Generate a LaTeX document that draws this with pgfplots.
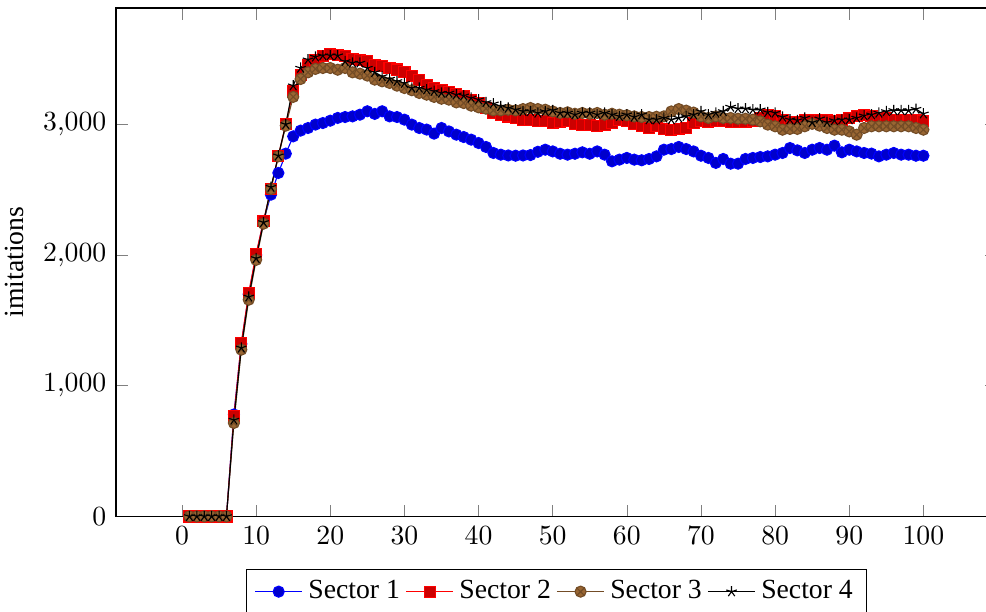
\documentclass[border=0pt]{standalone}
\usepackage{fontspec}
\setmainfont{Liberation Serif}
\usepackage{pgfplots}
\usepackage{pgfplotstable}
\pgfplotsset{compat=1.18}
\pgfplotstableread{
x s1 s2 s3 s4
1 0 0 0 0
2 0 0 0 0
3 0 0 0 0
4 0 0 0 0
5 0 0 0 0
6 0 0 0 0
7 780 770 715 738
8 1320 1327 1276 1290
9 1700 1710 1658 1680
10 2000 2009 1963 1975
11 2260 2263 2240 2250
12 2462 2505 2505 2520
13 2628 2760 2755 2760
14 2776 3005 2990 3000
15 2908 3252 3210 3296
16 2952 3380 3347 3431
17 2972 3457 3398 3495
18 2998 3495 3424 3516
19 3010 3520 3431 3526
20 3028 3541 3431 3526
21 3049 3533 3418 3526
22 3056 3520 3431 3482
23 3061 3500 3398 3470
24 3074 3495 3388 3470
25 3100 3482 3373 3431
26 3080 3457 3342 3398
27 3100 3444 3329 3367
28 3061 3431 3317 3347
29 3056 3419 3296 3329
30 3036 3400 3278 3315
31 2998 3367 3261 3278
32 2972 3342 3240 3278
33 2960 3304 3227 3265
34 2929 3275 3210 3253
35 2972 3260 3196 3240
36 2946 3245 3189 3240
37 2921 3230 3168 3227
38 2903 3214 3163 3219
39 2883 3189 3143 3202
40 2857 3160 3130 3189
41 2827 3125 3120 3168
42 2781 3090 3107 3158
43 2768 3074 3107 3138
44 2762 3060 3112 3125
45 2760 3049 3107 3112
46 2762 3036 3117 3099
47 2765 3031 3125 3099
48 2790 3023 3117 3087
49 2806 3023 3112 3099
50 2793 3012 3099 3107
51 2775 3015 3087 3087
52 2768 3023 3092 3087
53 2775 3005 3081 3074
54 2786 2998 3087 3087
55 2775 2995 3081 3087
56 2793 2990 3087 3074
57 2768 2998 3074 3087
58 2717 3010 3081 3074
59 2730 3031 3074 3061
60 2743 3023 3070 3074
61 2730 3005 3061 3056
62 2725 2990 3056 3074
63 2735 2975 3056 3036
64 2755 2985 3058 3036
65 2806 2965 3061 3049
66 2811 2959 3099 3036
67 2827 2962 3117 3049
68 2811 2972 3105 3061
69 2793 3010 3090 3074
70 2760 3023 3061 3099
71 2743 3015 3049 3074
72 2705 3023 3061 3087
73 2735 3023 3049 3099
74 2699 3015 3049 3133
75 2699 3015 3043 3120
76 2735 3015 3043 3120
77 2743 3023 3036 3112
78 2750 3049 3023 3112
79 2755 3074 2998 3092
80 2768 3061 2985 3087
81 2781 3036 2959 3056
82 2819 3015 2965 3036
83 2801 3015 2965 3030
84 2781 3036 2985 3049
85 2806 3036 3004 3015
86 2819 3030 2990 3043
87 2806 3030 2972 3015
88 2837 3023 2959 3030
89 2786 3036 2959 3036
90 2806 3050 2946 3036
91 2793 3061 2921 3049
92 2781 3074 2972 3066
93 2776 3061 2985 3074
94 2755 3049 2985 3087
95 2768 3049 2985 3099
96 2781 3036 2985 3107
97 2768 3036 2985 3107
98 2768 3036 2985 3107
99 2760 3036 2972 3117
100 2760 3023 2959 3081
}\datatable
\begin{document}
\begin{tikzpicture}
\begin{axis}[name=ax,
  scale only axis, width=318.1pt, height=183.6pt,
  xmin=-8.9, xmax=109.9, ymin=0, ymax=3890,
  xtick={0,10,...,100}, ytick={0,1000,2000,3000},
  ylabel={imitations},
  legend columns=4,
  legend style={at={(0.5,-0.103)}, anchor=north, font=\normalsize},
]
\addplot[color=blue, mark=*, mark options={fill=blue!80!black}] table[x=x,y=s1] {\datatable};
\addplot[color=red, mark=square*, mark options={fill=red!80!black}] table[x=x,y=s2] {\datatable};
\addplot[color=brown!60!black, mark=otimes*, mark options={fill=brown!80!black}] table[x=x,y=s3] {\datatable};
\addplot[color=black, mark=star] table[x=x,y=s4] {\datatable};
\legend{Sector 1, Sector 2, Sector 3, Sector 4}
\end{axis}
\pgfresetboundingbox
\path ([xshift=-41.9pt,yshift=-34.4pt]ax.south west) rectangle ([xshift=-3.9pt,yshift=2.9pt]ax.north east);
\end{tikzpicture}
\end{document}
